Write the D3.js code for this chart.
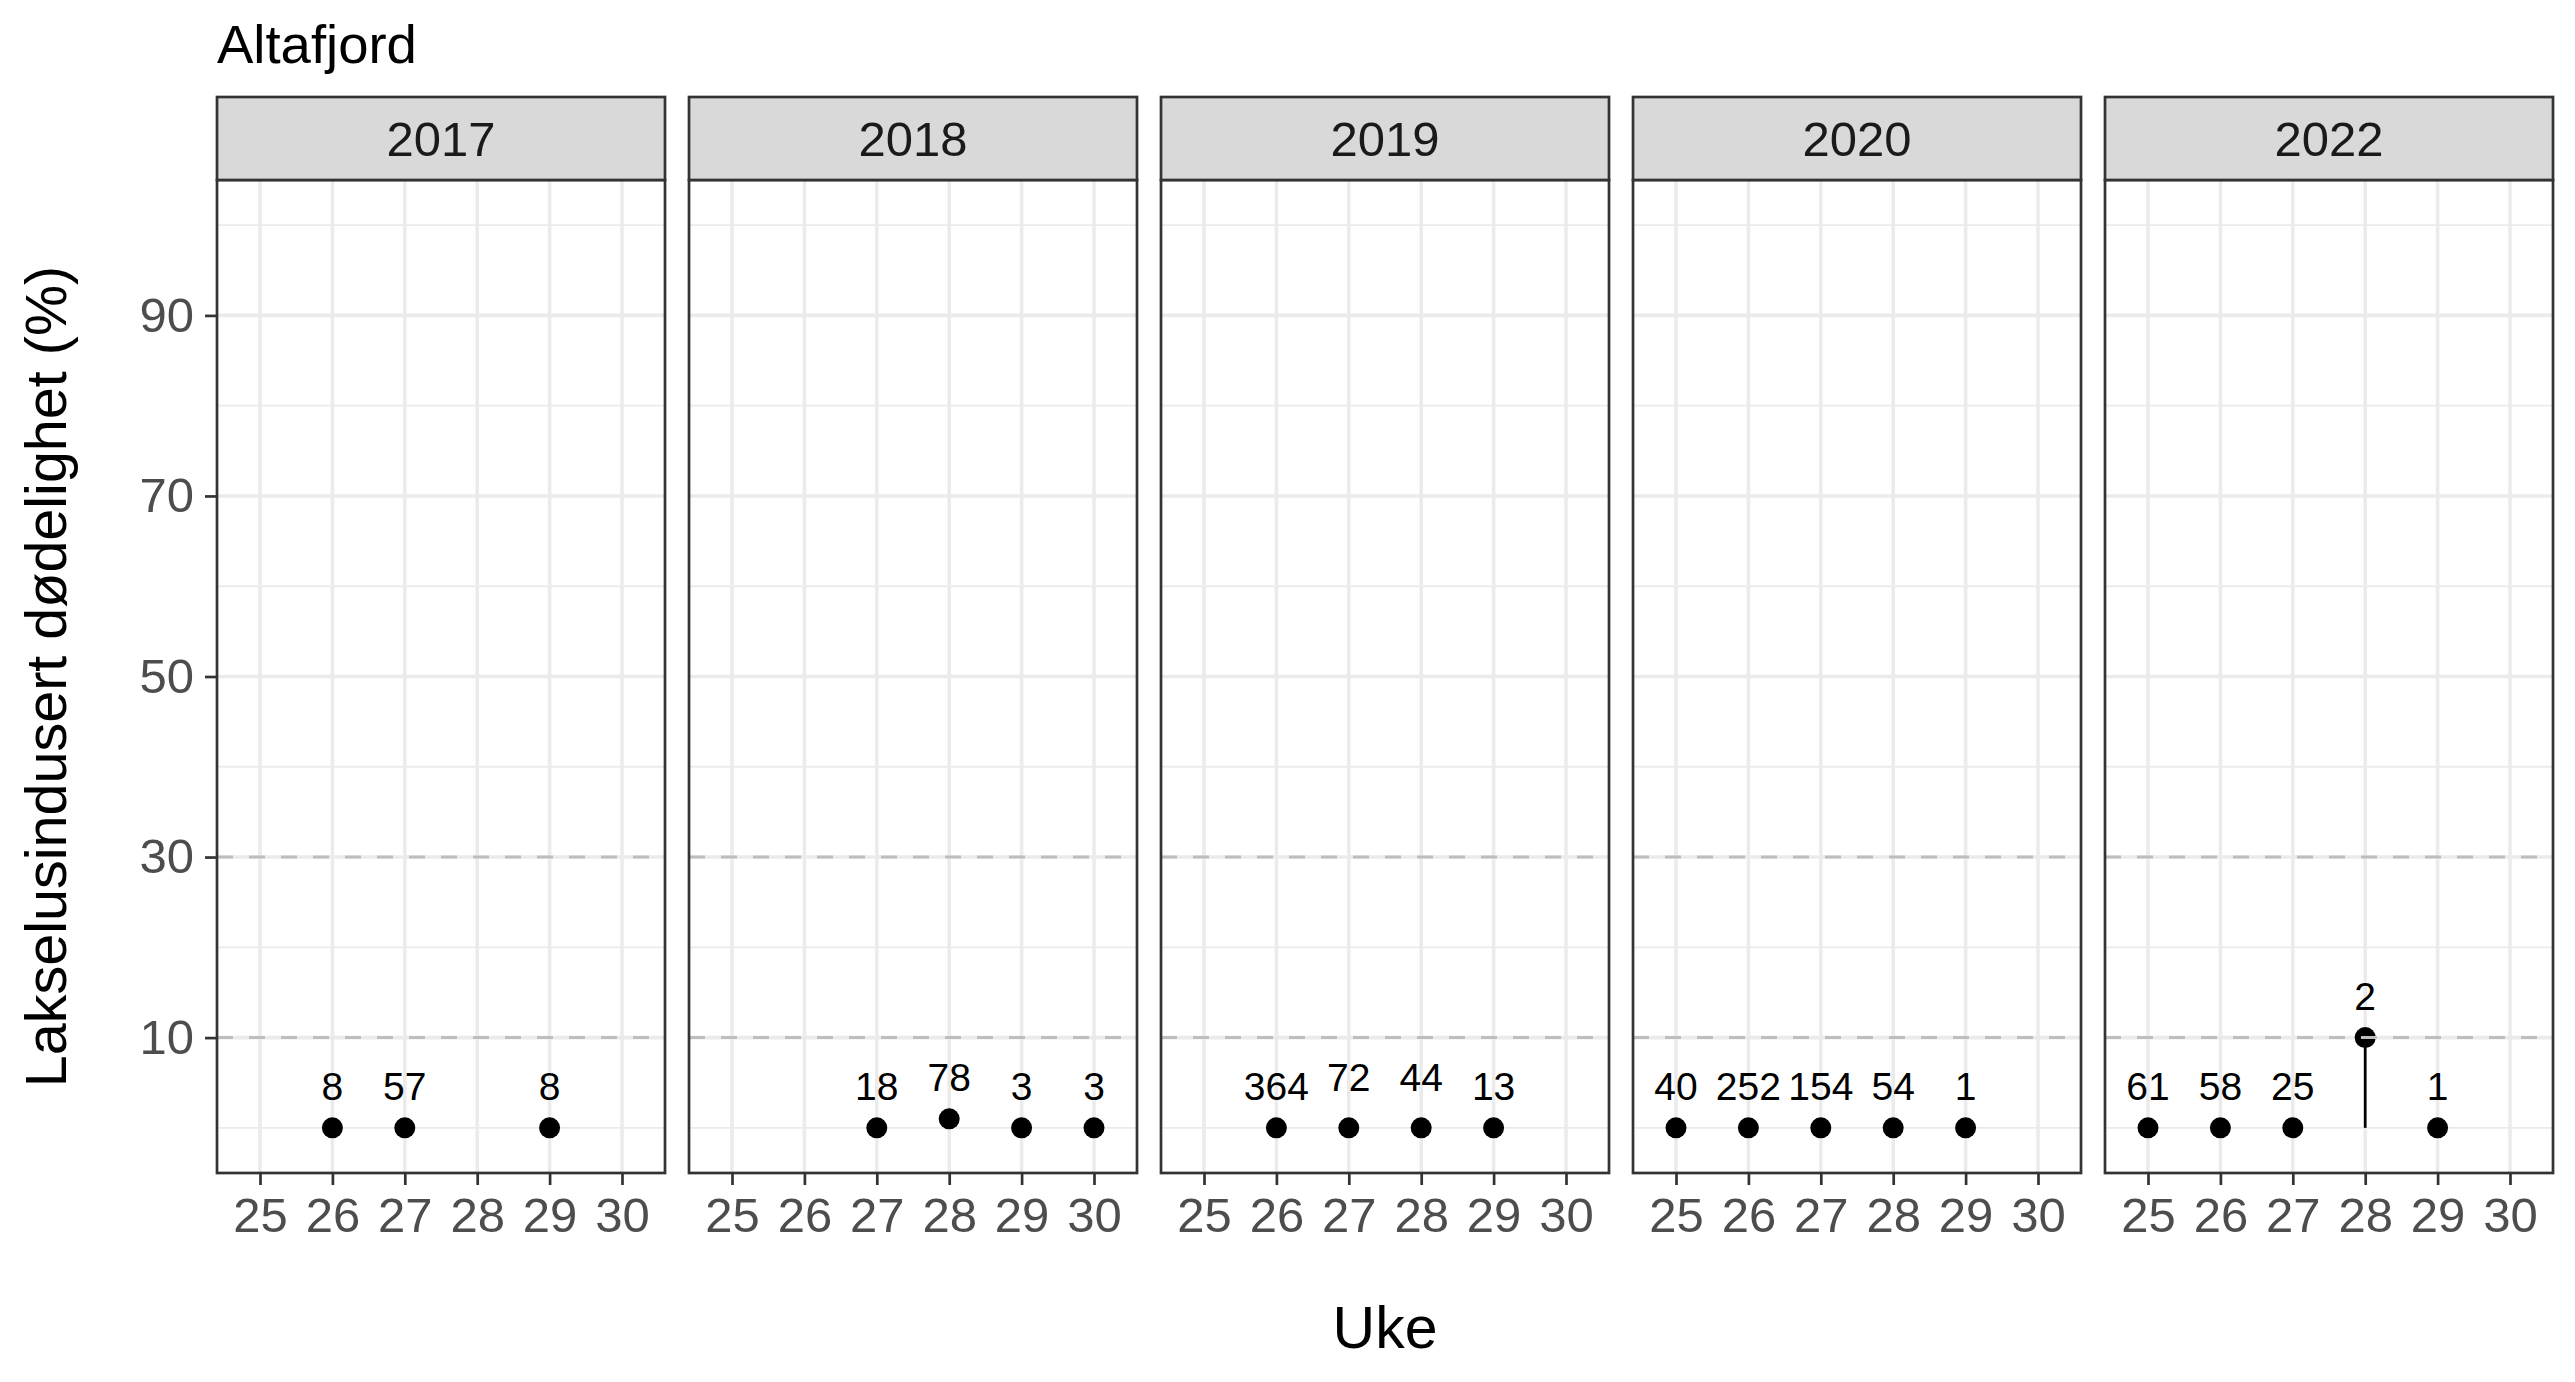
<!DOCTYPE html>
<html>
<head>
<meta charset="utf-8">
<script src="https://cdn.jsdelivr.net/npm/d3@7"></script>
<style>
  html, body { margin: 0; padding: 0; background: #fff; }
  svg { display: block; }
  text { font-family: "Liberation Sans", Arial, sans-serif; }
</style>
</head>
<body>
<svg id="chart" width="2575" height="1382"></svg>
<script>
// ---------------- data ----------------
const chartTitle = "Altafjord";
const xTitle = "Uke";
const yTitle = "Lakselusindusert dødelighet (%)";
const years = ["2017", "2018", "2019", "2020", "2022"];
const xTicks = [25, 26, 27, 28, 29, 30];
const yTicks = [10, 30, 50, 70, 90];
const yMinor = [0, 20, 40, 60, 80, 100];
const refLines = [10, 30];

const pointYear  = ["2017","2017","2017", "2018","2018","2018","2018", "2019","2019","2019","2019", "2020","2020","2020","2020","2020", "2022","2022","2022","2022","2022"];
const pointWeek  = [26, 27, 29,  27, 28, 29, 30,  26, 27, 28, 29,  25, 26, 27, 28, 29,  25, 26, 27, 28, 29];
const pointValue = [0, 0, 0,     0, 1, 0, 0,      0, 0, 0, 0,      0, 0, 0, 0, 0,     0, 0, 0, 10, 0];
const pointLower = [0, 0, 0,     0, 1, 0, 0,      0, 0, 0, 0,      0, 0, 0, 0, 0,     0, 0, 0, 0, 0];
const pointUpper = [0, 0, 0,     0, 1, 0, 0,      0, 0, 0, 0,      0, 0, 0, 0, 0,     0, 0, 0, 10, 0];
const pointN     = [8, 57, 8,    18, 78, 3, 3,    364, 72, 44, 13,  40, 252, 154, 54, 1, 61, 58, 25, 2, 1];
const labelLift  = [0, 0, 0,     0, 0, 0, 0,      0, 1, 1, 0,      0, 0, 0, 0, 0,     0, 0, 0, 0, 0];

const points = pointYear.map((y, i) => ({
  year: y, week: pointWeek[i], value: pointValue[i],
  lower: pointLower[i], upper: pointUpper[i], n: pointN[i], lift: labelLift[i]
}));

// ---------------- layout ----------------
const svg = d3.select("#chart");
const stripTop = 97, panelTop = 180, panelBottom = 1173;
const facet = d3.scaleBand().domain(years).range([217, 2553]).paddingInner(24 / 472).paddingOuter(0);
const pw = facet.bandwidth();
const x = d3.scaleLinear().domain([24.406, 30.594]).range([0, pw]);
const y = d3.scaleLinear().domain([-5, 105]).range([panelBottom, panelTop]);

// title
svg.append("text").attr("x", 217).attr("y", 63)
  .attr("font-size", 54.5).attr("fill", "#000").text(chartTitle);

years.forEach((yr, pi) => {
  const g = svg.append("g").attr("transform", `translate(${facet(yr)},0)`);

  g.append("rect").attr("x", 0).attr("y", panelTop).attr("width", pw)
    .attr("height", panelBottom - panelTop).attr("fill", "#fff");

  g.selectAll(".ymin").data(yMinor).join("line")
    .attr("x1", 0).attr("x2", pw).attr("y1", d => y(d)).attr("y2", d => y(d))
    .attr("stroke", "#EBEBEB").attr("stroke-width", 1.8);
  g.selectAll(".ymaj").data(yTicks).join("line")
    .attr("x1", 0).attr("x2", pw).attr("y1", d => y(d)).attr("y2", d => y(d))
    .attr("stroke", "#EBEBEB").attr("stroke-width", 3.6);
  g.selectAll(".xmaj").data(xTicks).join("line")
    .attr("x1", d => x(d)).attr("x2", d => x(d)).attr("y1", panelTop).attr("y2", panelBottom)
    .attr("stroke", "#EBEBEB").attr("stroke-width", 3.6);

  const pts = points.filter(p => p.year === yr);

  g.selectAll(".rng").data(pts).join("line")
    .attr("x1", d => x(d.week)).attr("x2", d => x(d.week))
    .attr("y1", d => y(d.lower)).attr("y2", d => y(d.upper))
    .attr("stroke", "#000").attr("stroke-width", 2.7);

  g.selectAll(".pt").data(pts).join("circle")
    .attr("cx", d => x(d.week)).attr("cy", d => y(d.value)).attr("r", 10.5)
    .attr("fill", "#000");

  g.selectAll(".ref").data(refLines).join("line")
    .attr("x1", 0).attr("x2", pw).attr("y1", d => y(d)).attr("y2", d => y(d))
    .attr("stroke", "#BEBEBE").attr("stroke-width", 3).attr("stroke-dasharray", "16,16");

  g.selectAll(".lab").data(pts).join("text")
    .attr("x", d => x(d.week)).attr("y", d => y(d.value + d.lift) - 28)
    .attr("text-anchor", "middle").attr("font-size", 39).attr("fill", "#000")
    .text(d => d.n);

  g.append("rect").attr("x", 0).attr("y", panelTop).attr("width", pw)
    .attr("height", panelBottom - panelTop).attr("fill", "none")
    .attr("stroke", "#333333").attr("stroke-width", 2.7);

  g.append("rect").attr("x", 0).attr("y", stripTop).attr("width", pw)
    .attr("height", panelTop - stripTop).attr("fill", "#D9D9D9")
    .attr("stroke", "#333333").attr("stroke-width", 2.7);
  g.append("text").attr("x", pw / 2).attr("y", (stripTop + panelTop) / 2 + 17.5)
    .attr("text-anchor", "middle").attr("font-size", 49).attr("fill", "#1A1A1A").text(yr);

  const xa = g.append("g").attr("transform", `translate(0,${panelBottom})`)
    .call(d3.axisBottom(x).tickValues(xTicks).tickSize(12).tickPadding(12).tickFormat(d3.format("d")));
  xa.select(".domain").remove();
  xa.selectAll(".tick line").attr("stroke", "#333333").attr("stroke-width", 2.7);
  xa.selectAll(".tick text").attr("font-size", 49).attr("fill", "#4D4D4D")
    .attr("font-family", "Liberation Sans, Arial, sans-serif").attr("dy", "0.71em");

  if (pi === 0) {
    const ya = g.append("g")
      .call(d3.axisLeft(y).tickValues(yTicks).tickSize(12).tickPadding(11).tickFormat(d3.format("d")));
    ya.select(".domain").remove();
    ya.selectAll(".tick line").attr("stroke", "#333333").attr("stroke-width", 2.7);
    ya.selectAll(".tick text").attr("font-size", 49).attr("fill", "#4D4D4D")
      .attr("font-family", "Liberation Sans, Arial, sans-serif");
  }
});

svg.append("text").attr("x", (217 + 2553) / 2).attr("y", 1348)
  .attr("text-anchor", "middle").attr("font-size", 59).attr("fill", "#000").text(xTitle);
svg.append("text")
  .attr("transform", `translate(66,${(panelTop + panelBottom) / 2}) rotate(-90)`)
  .attr("text-anchor", "middle").attr("font-size", 57.5).attr("fill", "#000").text(yTitle);
</script>
</body>
</html>
